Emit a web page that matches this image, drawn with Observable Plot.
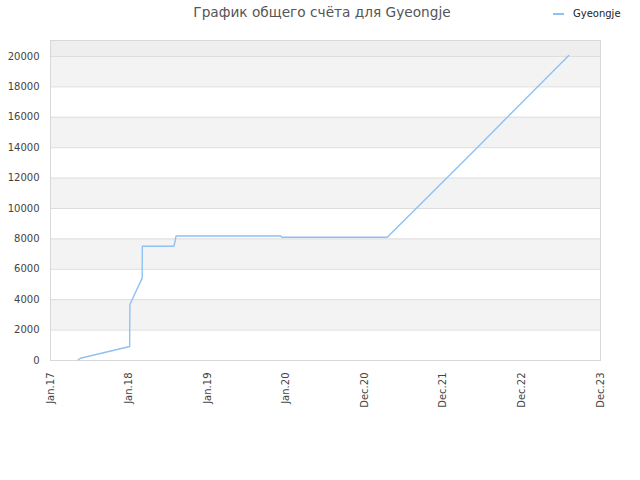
<!DOCTYPE html>
<html>
<head>
<meta charset="utf-8">
<script src="https://cdn.jsdelivr.net/npm/d3@7"></script>
<script src="https://cdn.jsdelivr.net/npm/@observablehq/plot@0.6"></script>
<style>
  html, body { margin: 0; padding: 0; background: #fff; }
  #wrap { position: relative; width: 640px; height: 480px; font-family: "DejaVu Sans", sans-serif; }
  #title { position: absolute; left: 0; width: 640px; top: 4px; text-align: center; font-size: 13.7px; color: #555; padding-left: 4px; box-sizing: border-box; }
  #legend { position: absolute; left: 553px; top: 8px; font-size: 10px; color: #222; display: flex; align-items: center; }
  #legend .sw { display: inline-block; width: 11px; height: 2px; background: #8fc1f3; margin-right: 9px; }
  #chart { position: absolute; left: 0; top: 0; }
</style>
</head>
<body>
<div id="wrap">
  <div id="chart"></div>
  <div id="title">График общего счёта для Gyeongje</div>
  <div id="legend"><span class="sw"></span>Gyeongje</div>
</div>
<script>
// Data
const dates = [
  "2017-05-27", "2017-06-06", "2018-01-17", "2018-01-18", "2018-03-15", "2018-03-16",
  "2018-08-07", "2018-08-11", "2018-08-17", "2019-12-10", "2019-12-13", "2021-04-09",
  "2022-05-25", "2023-07-18"
];
const scores = [
  50, 150, 920, 3680, 5420, 7520,
  7520, 7720, 8190, 8190, 8110, 8110,
  14000, 20070
];
const seriesName = "Gyeongje";

const xTickDates = ["2017-01-20", "2018-01-14", "2019-01-08", "2020-01-02", "2020-12-27", "2021-12-21", "2022-12-15", "2023-12-10"];
const xTickLabels = ["Jan.17", "Jan.18", "Jan.19", "Jan.20", "Dec.20", "Dec.21", "Dec.22", "Dec.23"];
const yTicks = [0, 2000, 4000, 6000, 8000, 10000, 12000, 14000, 16000, 18000, 20000];
const bandLow = [2000, 6000, 10000, 14000, 18000];
const bandHigh = [4000, 8000, 12000, 16000, 20000];
const yMax = 21050;

const parse = d3.utcParse("%Y-%m-%d");
const data = dates.map((d, i) => ({date: parse(d), score: scores[i], name: seriesName}));
const xTicks = xTickDates.map(parse);
const labelOf = new Map(xTicks.map((d, i) => [+d, xTickLabels[i]]));
const bands = bandLow.map((lo, i) => ({lo, hi: bandHigh[i]}));

const chart = Plot.plot({
  width: 640,
  height: 480,
  marginTop: 40,
  marginLeft: 50,
  marginRight: 40,
  marginBottom: 120,
  style: {fontFamily: "DejaVu Sans, sans-serif", fontSize: "10px", color: "#444", background: "#fff"},
  x: {type: "utc", domain: [xTicks[0], xTicks[xTicks.length - 1]]},
  y: {domain: [0, yMax]},
  marks: [
    Plot.rect([{lo: 20000, hi: yMax}], {y1: "lo", y2: "hi", fill: "#eeeeee"}),
    Plot.rect(bands, {y1: "lo", y2: "hi", fill: "#f3f3f3"}),
    Plot.ruleY(yTicks.slice(1), {stroke: "#dddddd", strokeWidth: 1}),
    Plot.frame({stroke: "#d8d8d8"}),
    Plot.axisY({ticks: yTicks, tickSize: 0, tickPadding: 11, label: null, tickFormat: d => String(d)}),
    Plot.axisX({ticks: xTicks, tickSize: 0, tickPadding: 12, tickRotate: -90, label: null, tickFormat: d => labelOf.get(+d)}),
    Plot.line(data, {x: "date", y: "score", stroke: "#8fc1f3", strokeWidth: 1.4, curve: "linear"})
  ]
});
document.getElementById("chart").appendChild(chart);
</script>
</body>
</html>
